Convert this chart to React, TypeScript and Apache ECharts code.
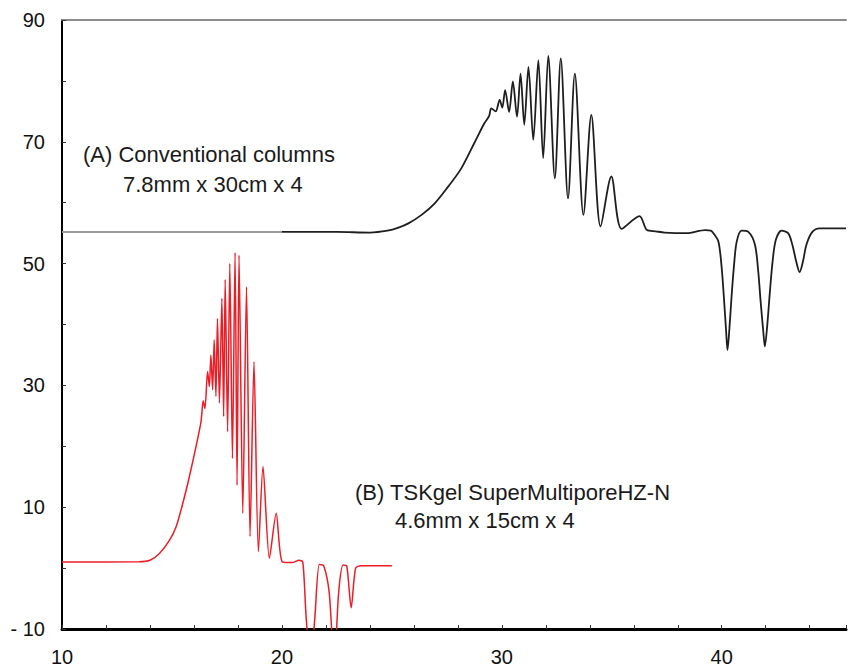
import React, { useEffect, useRef } from "react";
import * as echarts from "echarts";

// (A) Conventional columns – retention time (min) and signal
const aTime = [
  20.0, 22.5, 24.0, 24.8, 25.3, 25.75, 26.35, 26.95, 27.55, 28.15, 28.75, 29.2, 29.42,
  29.52, 29.72, 29.9, 30.02, 30.15, 30.33, 30.5, 30.69, 30.85, 31.02, 31.21, 31.43,
  31.66, 31.88, 32.11, 32.41, 32.68, 33.01, 33.32, 33.71, 34.07, 34.49, 34.98, 35.45,
  36.26, 36.6, 37.0, 37.4, 38.4, 39.25, 39.5, 39.62, 39.85, 40.0, 40.1, 40.2, 40.26,
  40.35, 40.45, 40.56, 40.68, 40.9, 41.21, 41.51, 41.66, 41.77, 41.89, 41.96, 42.07,
  42.19, 42.31, 42.46, 42.72, 43.02, 43.21, 43.39, 43.54, 43.69, 43.85, 44.12, 44.45,
  45.65,
];
const aSignal = [
  55.2, 55.2, 55.1, 55.4, 55.9, 56.6, 58.0, 59.9, 62.6, 65.6, 69.8, 73.0, 74.2,
  75.5, 75.0, 76.9, 75.6, 78.5, 74.9, 79.9, 74.1, 81.2, 72.8, 82.3, 70.3,
  83.4, 67.3, 84.1, 64.0, 83.7, 60.7, 81.2, 58.0, 74.4, 56.1, 64.3, 55.7,
  57.8, 55.5, 55.3, 55.1, 55.0, 55.5, 55.4, 55.0, 53.6, 49.2, 44.3, 38.8, 35.8,
  39.4, 44.8, 49.8, 53.6, 55.4, 55.2, 53.1, 48.7, 43.7, 38.8, 36.4, 39.9,
  45.4, 50.3, 53.9, 55.4, 55.0, 53.1, 50.3, 48.6, 50.3, 53.1, 55.2, 55.8,
  55.8,
];

// (A) baseline before injection (grey segment)
const aLeadTime = [10, 20];
const aLeadSignal = [55.2, 55.2];

// (B) TSKgel SuperMultiporeHZ-N – retention time (min) and signal
const bTime = [
  10.0, 13.5, 14.0, 14.43, 14.89, 15.19, 15.49, 15.79, 16.09, 16.32, 16.42, 16.5,
  16.62, 16.7, 16.77, 16.85, 16.92, 17.0, 17.07, 17.16, 17.27, 17.35, 17.42, 17.53,
  17.63, 17.75, 17.87, 17.96, 18.05, 18.22, 18.39, 18.55, 18.73, 18.93, 19.14, 19.43,
  19.74, 20.01, 20.47, 20.78, 20.95, 21.1, 21.3, 21.5, 21.7, 21.9, 22.15, 22.38,
  22.58, 22.78, 22.95, 23.15, 23.35, 23.6, 25.0,
];
const bSignal = [
  1.0, 1.05, 1.3, 2.4, 4.6, 6.8, 10.6, 15.0, 19.9, 24.0, 27.5, 26.2,
  32.3, 29.8, 35.0, 29.3, 37.5, 28.2, 41.0, 27.1, 44.3, 24.9, 47.4, 22.4,
  50.0, 18.0, 51.8, 13.6, 51.4, 9.0, 46.2, 5.2, 33.9, 2.7, 16.7, 1.6,
  9.0, 1.05, 0.9, 1.3, 1.0, -8, -16, -8, 0.6, 0.4, -4, -16,
  -4, 0.5, 0.3, -6.5, 0.0, 0.4, 0.4,
];

const xTickLabels = [10, 20, 30, 40];
const yTickLabels = [90, 70, 50, 30, 10, -10];

const zip = (xs: number[], ys: number[]) => xs.map((x, i) => [x, ys[i]]);

const FONT = '"Liberation Sans", Arial, Helvetica, sans-serif';

export default function App() {
  const ref = useRef<HTMLDivElement>(null);
  useEffect(() => {
    if (!ref.current) return;
    const chart = echarts.init(ref.current, undefined, { renderer: "svg" });
    const option = {
      animation: false,
      backgroundColor: "#ffffff",
      grid: { left: 62, right: 0, top: 20, bottom: 40, containLabel: false },
      xAxis: [
        {
          type: "value",
          min: 10,
          max: 45.65,
          interval: 2,
          axisLine: { show: true, onZero: false, lineStyle: { color: "#000", width: 3 } },
          axisTick: { show: true, inside: true, length: 4, lineStyle: { color: "#333", width: 1 } },
          axisLabel: {
            fontFamily: FONT,
            fontSize: 20,
            color: "#111",
            margin: 18,
            formatter: (v: number) => (xTickLabels.includes(v) ? String(v) : ""),
          },
          splitLine: { show: false },
        },
        {
          type: "value",
          position: "top",
          min: 10,
          max: 45.65,
          axisLine: { show: true, onZero: false, lineStyle: { color: "#8c8c8c", width: 2 } },
          axisTick: { show: false },
          axisLabel: { show: false },
          splitLine: { show: false },
        },
      ],
      yAxis: {
        type: "value",
        min: -10,
        max: 90,
        interval: 10,
        axisLine: { show: true, onZero: false, lineStyle: { color: "#000", width: 2 } },
        axisTick: { show: true, inside: true, length: 4, lineStyle: { color: "#333", width: 1 } },
        axisLabel: {
          fontFamily: FONT,
          fontSize: 20,
          color: "#111",
          margin: 17,
          formatter: (v: number) =>
            yTickLabels.includes(v) ? (v < 0 ? "- " + Math.abs(v) : String(v)) : "",
        },
        splitLine: { show: false },
      },
      series: [
        {
          type: "line",
          data: zip(aLeadTime, aLeadSignal),
          showSymbol: false,
          lineStyle: { color: "#9a9a9a", width: 2 },
          silent: true,
        },
        {
          type: "line",
          data: zip(aTime, aSignal),
          showSymbol: false,
          smooth: 0.3,
          lineStyle: { color: "#1e1e1e", width: 1.8 },
          silent: true,
        },
        {
          type: "line",
          data: zip(bTime, bSignal),
          showSymbol: false,
          smooth: 0.25,
          clip: true,
          lineStyle: { color: "#ee1c25", width: 1.5 },
          silent: true,
        },
      ],
      graphic: [
        {
          type: "text",
          x: 83,
          y: 154,
          style: { text: "(A) Conventional columns", font: `22px ${FONT}`, fill: "#1a1a1a", verticalAlign: "middle" },
        },
        {
          type: "text",
          x: 123,
          y: 184,
          style: { text: "7.8mm x 30cm x 4", font: `22px ${FONT}`, fill: "#1a1a1a", verticalAlign: "middle" },
        },
        {
          type: "text",
          x: 355,
          y: 492,
          style: { text: "(B) TSKgel SuperMultiporeHZ-N", font: `22px ${FONT}`, fill: "#1a1a1a", verticalAlign: "middle" },
        },
        {
          type: "text",
          x: 395,
          y: 520,
          style: { text: "4.6mm x 15cm x 4", font: `22px ${FONT}`, fill: "#1a1a1a", verticalAlign: "middle" },
        },
      ],
    };
    chart.setOption(option as any);
    return () => chart.dispose();
  }, []);
  return (
    <div
      ref={ref}
      style={{ position: "absolute", left: 0, top: 0, width: 849, height: 669, background: "#fff" }}
    />
  );
}
